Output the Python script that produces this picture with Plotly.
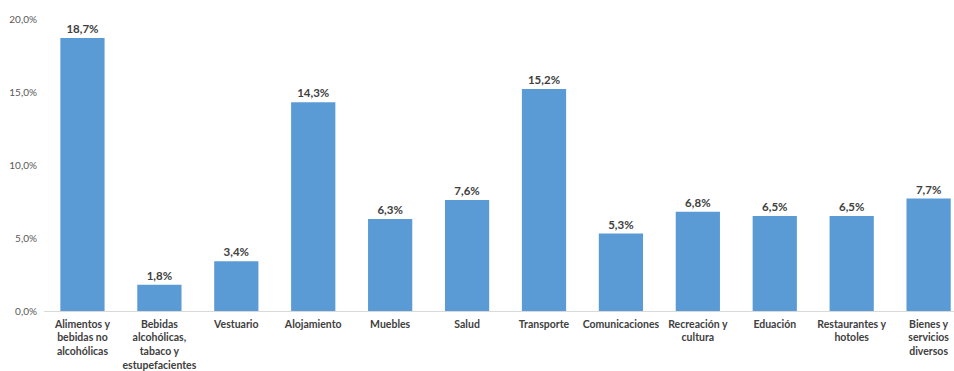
import plotly.graph_objects as go

categories = [
    "Alimentos y<br>bebidas no<br>alcohólicas",
    "Bebidas<br>alcohólicas,<br>tabaco y<br>estupefacientes",
    "Vestuario",
    "Alojamiento",
    "Muebles",
    "Salud",
    "Transporte",
    "Comunicaciones",
    "Recreación y<br>cultura",
    "Eduación",
    "Restaurantes y<br>hotoles",
    "Bienes y<br>servicios<br>diversos",
]
values = [18.7, 1.8, 3.4, 14.3, 6.3, 7.6, 15.2, 5.3, 6.8, 6.5, 6.5, 7.7]
y_ticks = [0, 5, 10, 15, 20]
y_ticktext = ["0,0%", "5,0%", "10,0%", "15,0%", "20,0%"]

fig = go.Figure(go.Bar(
    x=list(range(len(categories))),
    y=values,
    marker=dict(color="#5B9BD5", line=dict(width=0)),
    width=0.575,
    texttemplate="%{y:.1f}%",
    textposition="outside",
    textfont=dict(family="Lato", size=11.5, color="#404040", weight=700),
    cliponaxis=False,
    hoverinfo="skip",
))

fig.update_layout(
    width=954, height=371,
    margin=dict(l=44, r=0, t=19, b=60, autoexpand=False),
    plot_bgcolor="white", paper_bgcolor="white",
    separators=",.",
    showlegend=False,
)
fig.update_xaxes(
    tickmode="array",
    tickvals=list(range(len(categories))),
    ticktext=categories,
    range=[-0.5, 11.33],
    showline=True, linecolor="#D9D9D9", linewidth=1,
    showgrid=False, ticks="",
    tickfont=dict(family="Lato", size=10.5, color="#404040", weight=700),
    tickangle=0,
    ticklabelstandoff=3,
    automargin=False,
)
fig.update_yaxes(
    range=[0, 20],
    tickmode="array",
    tickvals=y_ticks,
    ticktext=y_ticktext,
    showgrid=False, zeroline=False, showline=False,
    ticks="",
    tickfont=dict(family="Lato", size=10, color="#595959"),
    ticklabelstandoff=6,
    automargin=False,
)

fig.write_html(
    "out.html",
    config={"displayModeBar": False},
    post_script="document.body.style.margin='0';document.body.style.overflow='hidden';",
)
